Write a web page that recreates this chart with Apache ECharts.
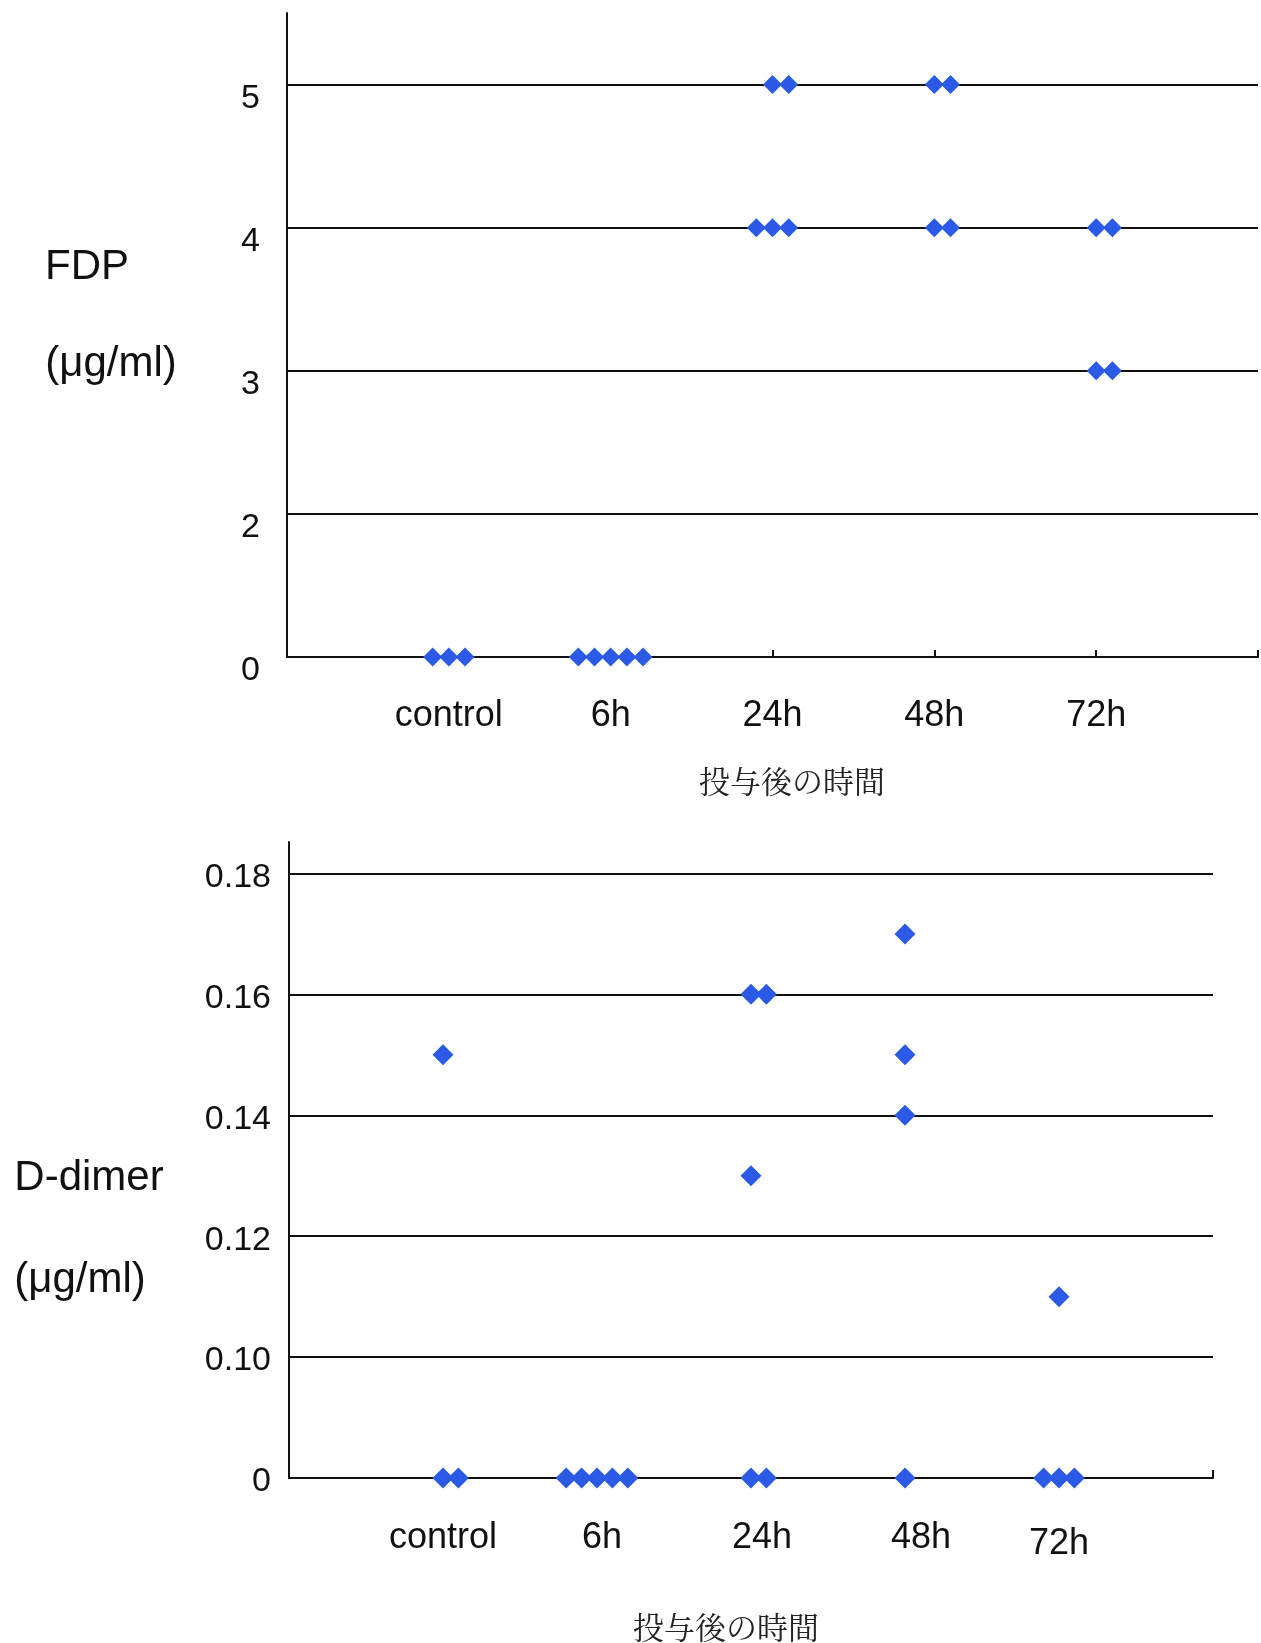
<!DOCTYPE html>
<html>
<head>
<meta charset="utf-8">
<script src="https://cdn.jsdelivr.net/npm/echarts@6/dist/echarts.min.js"></script>
<style>
html,body{margin:0;padding:0;background:#ffffff;}
#chart{width:1261px;height:1643px;}
</style>
</head>
<body>
<div id="chart"></div>
<script>
// ---- data ----
const categories = ['control', '6h', '24h', '48h', '72h'];

// FDP (µg/ml): individual values per group
const fdpControl = [0, 0, 0];
const fdp6h      = [0, 0, 0, 0, 0];
const fdp24h     = [5, 5, 4, 4, 4];
const fdp48h     = [5, 5, 4, 4];
const fdp72h     = [4, 4, 3, 3];

// D-dimer (µg/ml): individual values per group
const ddControl = [0.15, 0, 0];
const dd6h      = [0, 0, 0, 0, 0];
const dd24h     = [0.16, 0.16, 0.13, 0, 0];
const dd48h     = [0.17, 0.15, 0.14, 0];
const dd72h     = [0.11, 0, 0, 0];

// tick labels (broken axes: "0" sits one step below the first real tick)
const fdpTickLabels = ['0', '2', '3', '4', '5'];
const ddTickLabels  = ['0', '0.10', '0.12', '0.14', '0.16', '0.18'];

// ---- helpers ----
const FONT = '"Liberation Sans", Arial, Helvetica, sans-serif';
const JP_FONT = '"Noto Serif CJK JP", "Noto Sans CJK JP", serif';
const BLUE = '#2B5BE6';
const INK = '#111111';

// side-by-side placement of equal values (as in the original dot plot)
function buildPoints(groups, breakPos, step) {
  const pts = [];
  groups.forEach((vals, gi) => {
    const counts = {};
    vals.forEach(v => { counts[v] = (counts[v] || 0) + 1; });
    const seen = {};
    vals.forEach(v => {
      const n = counts[v];
      const k = seen[v] || 0;
      seen[v] = k + 1;
      const off = (k - Math.floor((n - 1) / 2)) * step;
      pts.push({ value: [gi + 1 + off, v === 0 ? breakPos : v], raw: v });
    });
  });
  return pts;
}

const fdpPoints = buildPoints([fdpControl, fdp6h, fdp24h, fdp48h, fdp72h], 1, 0.1);
const ddPoints  = buildPoints([ddControl, dd6h, dd24h, dd48h, dd72h], 0.08, 0.1);

function catLabel(v) {
  const r = Math.round(v);
  if (Math.abs(v - r) > 1e-6) return '';
  return categories[r - 1] || '';
}
const bottomShift = { '6h': 's5', '24h': 's11', '48h': 's16', '72h': 'low' };

const chart = echarts.init(document.getElementById('chart'), null, { renderer: 'canvas' });

const option = {
  backgroundColor: '#ffffff',
  animation: false,
  grid: [
    { left: 287, right: 2, top: 13, bottom: 986 },
    { left: 289, right: 48, top: 842, bottom: 165 }
  ],
  xAxis: [
    {
      gridIndex: 0, type: 'value', min: 0, max: 6, interval: 1,
      axisLine: { show: true, lineStyle: { color: INK, width: 2 } },
      axisTick: { show: true, inside: true, length: 7, lineStyle: { color: INK, width: 2 } },
      splitLine: { show: false },
      axisLabel: { formatter: catLabel, fontSize: 36, fontFamily: FONT, color: INK, margin: 41 }
    },
    {
      gridIndex: 1, type: 'value', min: 0, max: 6, interval: 1,
      axisLine: { show: true, lineStyle: { color: INK, width: 2 } },
      axisTick: { show: true, inside: true, length: 8, lineStyle: { color: INK, width: 2 } },
      splitLine: { show: false },
      axisLabel: {
        formatter: v => {
          const t = catLabel(v);
          if (!t) return '';
          return bottomShift[t] ? '{' + bottomShift[t] + '|' + t + '}' : '{n|' + t + '}';
        },
        fontSize: 36, fontFamily: FONT, color: INK, margin: 42,
        rich: {
          n:   { fontSize: 36, fontFamily: FONT, color: INK },
          s5:  { fontSize: 36, fontFamily: FONT, color: INK, padding: [0, 0, 0, 10] },
          s11: { fontSize: 36, fontFamily: FONT, color: INK, padding: [0, 0, 0, 22] },
          s16: { fontSize: 36, fontFamily: FONT, color: INK, padding: [0, 0, 0, 32] },
          low: { fontSize: 36, fontFamily: FONT, color: INK, padding: [6, 0, 0, 0] }
        }
      }
    }
  ],
  yAxis: [
    {
      gridIndex: 0, type: 'value', min: 1, max: 5.5, interval: 1,
      axisLine: { show: true, lineStyle: { color: INK, width: 2 } },
      axisTick: { show: false },
      splitLine: { show: true, showMaxLine: false, lineStyle: { color: INK, width: 2 } },
      axisLabel: {
        formatter: v => {
          const r = Math.round(v);
          if (Math.abs(v - r) > 1e-6) return '';
          return fdpTickLabels[r - 1] || '';
        },
        showMaxLabel: false,
        fontSize: 34, fontFamily: FONT, color: INK, margin: 27,
        verticalAlign: 'top', lineHeight: 28
      }
    },
    {
      gridIndex: 1, type: 'value', min: 0.08, max: 0.1852, interval: 0.02,
      axisLine: { show: true, lineStyle: { color: INK, width: 2 } },
      axisTick: { show: false },
      splitLine: { show: true, showMaxLine: false, lineStyle: { color: INK, width: 2 } },
      axisLabel: {
        formatter: v => {
          const r = (v - 0.08) / 0.02;
          const i = Math.round(r);
          if (Math.abs(r - i) > 1e-6) return '';
          return ddTickLabels[i] || '';
        },
        showMaxLabel: false,
        fontSize: 34, fontFamily: FONT, color: INK, margin: 18,
        verticalAlign: 'top', lineHeight: 8
      }
    }
  ],
  series: [
    {
      name: 'FDP', type: 'scatter', xAxisIndex: 0, yAxisIndex: 0,
      symbol: 'diamond', symbolSize: 19,
      itemStyle: { color: BLUE, opacity: 1 },
      data: fdpPoints, z: 5
    },
    {
      name: 'D-dimer', type: 'scatter', xAxisIndex: 1, yAxisIndex: 1,
      symbol: 'diamond', symbolSize: 21,
      itemStyle: { color: BLUE, opacity: 1 },
      data: ddPoints, z: 5
    }
  ],
  graphic: [
    { type: 'text', x: 87, y: 267, style: { text: 'FDP', fontSize: 42, fontFamily: FONT, fill: INK, align: 'center', verticalAlign: 'middle' } },
    { type: 'text', x: 111, y: 364, style: { text: '(\u03bcg/ml)', fontSize: 42, fontFamily: FONT, fill: INK, align: 'center', verticalAlign: 'middle' } },
    { type: 'text', x: 89, y: 1178, style: { text: 'D-dimer', fontSize: 42, fontFamily: FONT, fill: INK, align: 'center', verticalAlign: 'middle' } },
    { type: 'text', x: 80, y: 1280, style: { text: '(\u03bcg/ml)', fontSize: 42, fontFamily: FONT, fill: INK, align: 'center', verticalAlign: 'middle' } },
    { type: 'text', x: 792, y: 781, style: { text: '投与後の時間', fontSize: 31, fontFamily: JP_FONT, fill: '#222222', align: 'center', verticalAlign: 'middle' } },
    { type: 'text', x: 726, y: 1627, style: { text: '投与後の時間', fontSize: 31, fontFamily: JP_FONT, fill: '#222222', align: 'center', verticalAlign: 'middle' } }
  ]
};

chart.setOption(option);
</script>
</body>
</html>
